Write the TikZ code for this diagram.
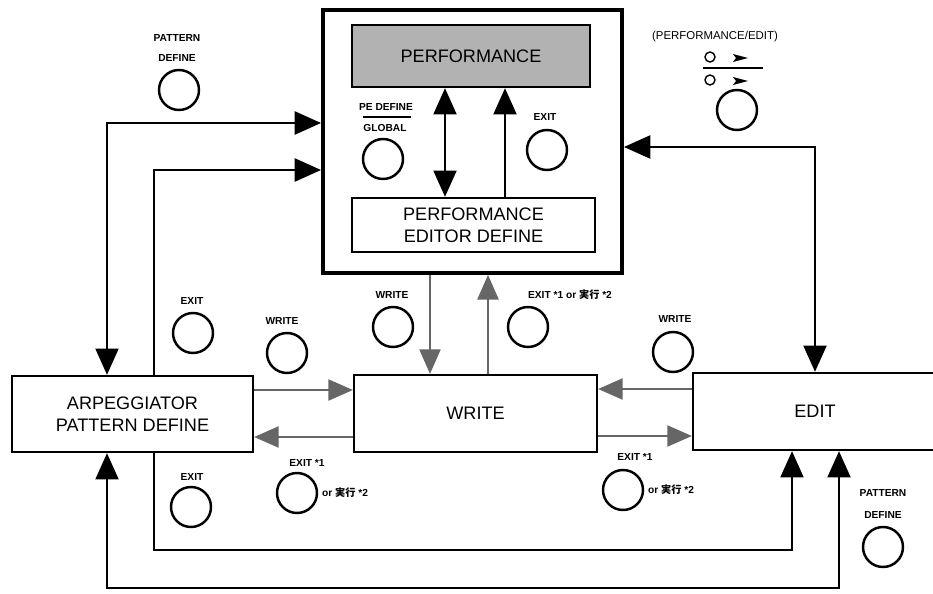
\documentclass[tikz,border=0pt]{standalone}
\usepackage{fontspec}
\setmainfont{Liberation Sans}
\newfontfamily\cjk{Noto Sans CJK JP}
\usetikzlibrary{arrows.meta,positioning}

\tikzset{
  box/.style={draw, line width=1.3pt, fill=white, inner sep=0pt, align=center,
    font=\fontsize{10.3}{12.4}\selectfont},
  btn/.style={draw, circle, line width=1.4pt, minimum size=0.8cm, inner sep=0pt},
  lbl/.style={font=\fontsize{5.8}{7}\selectfont\bfseries, inner sep=0pt},
  blk/.style={line width=1.6pt, >={Triangle[length=15pt,width=13pt]}},
  gry/.style={draw=black!60, line width=1.2pt, >={Triangle[length=14pt,width=12pt]}},
}

\begin{document}
\begin{tikzpicture}[x=0.02cm, y=-0.02cm]
    \useasboundingbox (0,0) rectangle (933,594);

    % Bloque PERFORMANCE
    \node[draw, line width=2.2pt, minimum width=5.98cm, minimum height=5.26cm] (perf) at (472.5,141.5) {};
    \node[box, fill=black!30, minimum width=4.76cm, minimum height=1.24cm] (disp) at (471,56) {PERFORMANCE};
    \node[box, minimum width=4.86cm, minimum height=1.08cm] (ped) at (473.5,225) {PERFORMANCE\\EDITOR DEFINE};

    % Modos inferiores
    \node[box, minimum width=4.82cm, minimum height=1.52cm] (arp) at (132.5,414) {ARPEGGIATOR\\PATTERN DEFINE};
    \node[box, minimum width=4.86cm, minimum height=1.54cm] (write) at (475.5,413.5) {WRITE};
    \node[box, minimum width=4.88cm, minimum height=1.54cm] (edit) at (815,411.5) {EDIT};

    % Botones
    \node[btn] (bPatTop) at (179,90) {};
    \node[lbl] (tPatTop) at (177,38) {PATTERN};
    \node[lbl] (tPatTop2) at (177,58) {DEFINE};

    \node[btn] (bPeDef) at (383,159) {};
    \node[lbl] (tPeDef) at (386,107) {PE DEFINE};
    \node[lbl] (tGlobal) at (385,128) {GLOBAL};
    \draw[line width=0.8pt] (363,117) -- (411,117);

    \node[btn] (bExitP) at (547,150) {};
    \node[lbl] (tExitP) at (545,117) {EXIT};

    \node[btn] (bPerfEdit) at (737,110) {};
    \node[lbl, font=\fontsize{6.5}{8}\selectfont] (tPerfEdit) at (715,37) {(PERFORMANCE/EDIT)};
    \node[circle, draw, line width=0.8pt, minimum size=0.2cm, inner sep=0pt] (sm1) at (710,57) {};
    \node[circle, draw, line width=0.8pt, minimum size=0.2cm, inner sep=0pt] (sm2) at (710,80) {};
    \fill (733,54) -- (748,58) -- (733,62) -- (736,58) -- cycle;
    \fill (733,77) -- (748,81) -- (733,85) -- (736,81) -- cycle;
    \draw[line width=0.8pt] (703,68) -- (763,68);

    \node[btn] (bExitL) at (193,333) {};
    \node[lbl] (tExitL) at (192,301) {EXIT};
    \node[btn] (bWriteL) at (287,353) {};
    \node[lbl] (tWriteL) at (282,321) {WRITE};
    \node[btn] (bWriteC) at (393,327) {};
    \node[lbl] (tWriteC) at (392,295) {WRITE};
    \node[btn] (bExitC) at (528,327) {};
    \node[lbl] (tExitC) at (570,295) {EXIT *1 or {\cjk 実行} *2};
    \node[btn] (bWriteR) at (673,352) {};
    \node[lbl] (tWriteR) at (675,319) {WRITE};

    \node[btn] (bExitLL) at (191,507) {};
    \node[lbl] (tExitLL) at (192,477) {EXIT};
    \node[btn] (bExit1L) at (297,493) {};
    \node[lbl] (tExit1L) at (307,463) {EXIT *1};
    \node[lbl, right=2pt of bExit1L] (tOr1L) {or {\cjk 実行} *2};
    \node[btn] (bExit1R) at (623,490) {};
    \node[lbl] (tExit1R) at (635,457) {EXIT *1};
    \node[lbl, right=2pt of bExit1R] (tOr1R) {or {\cjk 実行} *2};

    \node[btn] (bPatR) at (883,547) {};
    \node[lbl] (tPatR) at (883,493) {PATTERN};
    \node[lbl] (tPatR2) at (883,515) {DEFINE};

    % Flechas negras
    \draw[blk, <->] (disp.south -| 445,0) -- (ped.north -| 445,0);
    \draw[blk, ->] (ped.north -| 505,0) -- (disp.south -| 505,0);
    \draw[blk, <->] (arp.north -| 107,0) |- (perf.west |- 0,123);
    \draw[blk, ->] (arp.north -| 154,0) |- (perf.west |- 0,170);
    \draw[blk, <->] (perf.east |- 0,147) -| (edit.north);
    \draw[blk, ->] (arp.south -| 154,0) -- (154,550) -| (edit.south -| 792,0);
    \draw[blk, <->] (arp.south -| 107,0) |- (839,588) -- (edit.south -| 839,0);

    % Flechas grises
    \draw[gry, ->] (arp.east |- 0,390) -- (write.west |- 0,390);
    \draw[gry, ->] (write.west |- 0,437) -- (arp.east |- 0,437);
    \draw[gry, ->] (edit.west |- 0,389) -- (write.east |- 0,389);
    \draw[gry, ->] (write.east |- 0,436) -- (edit.west |- 0,436);
    \draw[gry, ->] (perf.south -| 430,0) -- (write.north -| 430,0);
    \draw[gry, ->] (write.north -| 488,0) -- (perf.south -| 488,0);
\end{tikzpicture}
\end{document}
